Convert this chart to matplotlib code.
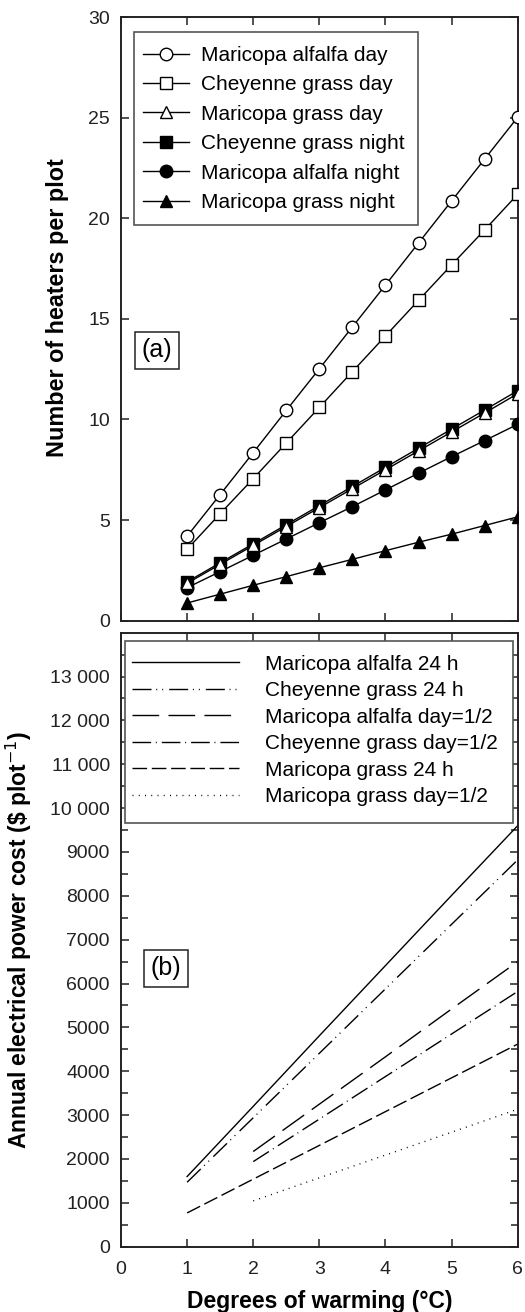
import matplotlib
matplotlib.use("Agg")
import matplotlib.pyplot as plt
from matplotlib.patches import Rectangle

plt.rcParams['font.family'] = ['Liberation Sans', 'DejaVu Sans']

# ---------------- data ----------------
warming = [1, 1.5, 2, 2.5, 3, 3.5, 4, 4.5, 5, 5.5, 6]
mar_alf_day = [4.2, 6.27, 8.35, 10.45, 12.52, 14.6, 16.68, 18.77, 20.86, 22.94, 25.02]
chey_grass_day = [3.55, 5.32, 7.06, 8.83, 10.6, 12.38, 14.15, 15.92, 17.68, 19.42, 21.19]
mar_grass_day = [1.86, 2.8, 3.74, 4.68, 5.62, 6.56, 7.5, 8.44, 9.38, 10.32, 11.28]
chey_grass_night = [1.93, 2.88, 3.82, 4.77, 5.72, 6.67, 7.62, 8.57, 9.52, 10.47, 11.43]
mar_alf_night = [1.64, 2.44, 3.25, 4.06, 4.87, 5.67, 6.5, 7.33, 8.15, 8.95, 9.76]
mar_grass_night = [0.88, 1.32, 1.76, 2.19, 2.63, 3.05, 3.48, 3.9, 4.3, 4.73, 5.16]
labels_a = ["Maricopa alfalfa day", "Cheyenne grass day", "Maricopa grass day",
            "Cheyenne grass night", "Maricopa alfalfa night", "Maricopa grass night"]

deg_24h = [1, 2, 3, 4, 5, 6]
deg_half = [2, 3, 4, 5, 6]
cost_mar_alf_24h = [1600, 3200, 4810, 6410, 8010, 9600]
cost_chey_grass_24h = [1470, 2940, 4410, 5880, 7350, 8820]
cost_mar_alf_half = [2170, 3250, 4330, 5420, 6500]
cost_chey_grass_half = [1940, 2910, 3880, 4850, 5820]
cost_mar_grass_24h = [770, 1540, 2310, 3080, 3850, 4620]
cost_mar_grass_half = [1045, 1570, 2090, 2610, 3135]
labels_b = ["Maricopa alfalfa 24 h", "Cheyenne grass 24 h", "Maricopa alfalfa day=1/2",
            "Cheyenne grass day=1/2", "Maricopa grass 24 h", "Maricopa grass day=1/2"]

yticks_a = [0, 5, 10, 15, 20, 25, 30]
yticks_b = [0, 1000, 2000, 3000, 4000, 5000, 6000, 7000, 8000, 9000,
            10000, 11000, 12000, 13000]
yticklabels_b = ["0", "1000", "2000", "3000", "4000", "5000", "6000", "7000",
                 "8000", "9000", "10 000", "11 000", "12 000", "13 000"]
xticks = [0, 1, 2, 3, 4, 5, 6]

# ---------------- figure ----------------
fig = plt.figure(figsize=(5.25, 13.12), dpi=100)
L, W = 121 / 525, 396.7 / 525
ax1 = fig.add_axes([L, 1 - 620.7 / 1312, W, 603.7 / 1312])
ax2 = fig.add_axes([L, 1 - 1246.7 / 1312, W, 614 / 1312])

spine_c = '#222222'
for ax in (ax1, ax2):
    for s in ax.spines.values():
        s.set_linewidth(1.4)
        s.set_color(spine_c)
    ax.tick_params(direction='in', which='both', top=True, right=True,
                   labelsize=14, pad=8, color=spine_c, colors='#222222')
    ax.tick_params(which='major', length=6, width=1.1)
    ax.tick_params(which='minor', length=5, width=1.1)
    ax.tick_params(axis='x', pad=10)
    ax.set_xlim(0, 6)
    ax.set_xticks(xticks)

# panel (a)
lw = 1.0
ms = 9
mew = 1.0
ax1.plot(warming, mar_alf_day, '-', color='k', lw=lw, marker='o', ms=ms, mfc='white', mec='k', mew=mew, label=labels_a[0], zorder=3)
ax1.plot(warming, chey_grass_day, '-', color='k', lw=lw, marker='s', ms=ms, mfc='white', mec='k', mew=mew, label=labels_a[1], zorder=3)
ax1.plot(warming, mar_grass_day, '-', color='k', lw=lw, marker='^', ms=ms, mfc='white', mec='k', mew=mew, label=labels_a[2], zorder=5)
ax1.plot(warming, chey_grass_night, '-', color='k', lw=lw, marker='s', ms=ms, mfc='k', mec='k', mew=mew, label=labels_a[3], zorder=4)
ax1.plot(warming, mar_alf_night, '-', color='k', lw=lw, marker='o', ms=ms, mfc='k', mec='k', mew=mew, label=labels_a[4], zorder=3)
ax1.plot(warming, mar_grass_night, '-', color='k', lw=lw, marker='^', ms=ms, mfc='k', mec='k', mew=mew, label=labels_a[5], zorder=3)
ax1.set_ylim(0, 30)
ax1.set_yticks(yticks_a)
ax1.tick_params(axis='x', labelbottom=False)
ax1.set_ylabel("Number of heaters per plot", fontsize=16.8, fontweight='bold')
ax1.yaxis.set_label_coords(-0.131, 0.519)
ax1.add_patch(Rectangle((0.032, 0.6555), 0.716, 0.9747 - 0.6555, transform=ax1.transAxes,
                        fc='white', ec='#555555', lw=1.2, zorder=6))
leg1 = ax1.legend(loc='upper left', bbox_to_anchor=(0.032, 0.968), borderaxespad=0,
                  fontsize=15, handlelength=2.2, handletextpad=0.56, borderpad=0.46,
                  labelspacing=0.5, frameon=False)
leg1.set_zorder(7)
ax1.text(0.0907, 0.4476, "(a)", transform=ax1.transAxes, fontsize=18, ha='center', va='center',
         bbox=dict(boxstyle='square,pad=0.27', fc='white', ec='#222222', lw=1.1))

# panel (b)
lwb = 1.0
ax2.plot(deg_24h, cost_mar_alf_24h, color='k', lw=lwb, linestyle='-', label=labels_b[0])
ax2.plot(deg_24h, cost_chey_grass_24h, color='k', lw=lwb,
         linestyle=(0, (13.7, 3.4, 0.7, 3.6, 0.7, 4.3)), label=labels_b[1])
ax2.plot(deg_half, cost_mar_alf_half, color='k', lw=lwb,
         linestyle=(0, (19.2, 6.7)), label=labels_b[2])
ax2.plot(deg_half, cost_chey_grass_half, color='k', lw=lwb,
         linestyle=(0, (13.4, 3.4, 0.7, 3.6)), label=labels_b[3])
ax2.plot(deg_24h, cost_mar_grass_24h, color='k', lw=lwb,
         linestyle=(0, (10.5, 3.4)), label=labels_b[4])
ax2.plot(deg_half, cost_mar_grass_half, color='k', lw=lwb,
         linestyle=(0, (0.7, 3.8)), label=labels_b[5])
ax2.set_ylim(0, 14000)
ax2.set_yticks(yticks_b)
ax2.set_yticklabels(yticklabels_b)
ax2.set_yticks([v + 500 for v in yticks_b], minor=True)
ax2.set_xticklabels([str(t) for t in xticks])
ax2.set_ylabel("Annual electrical power cost (\\$ plot$^{-1}$)", fontsize=16.5, fontweight='bold')
ax2.yaxis.set_label_coords(-0.219, 0.5)
ax2.set_xlabel("Degrees of warming (°C)", fontsize=16.5, fontweight='bold')
ax2.xaxis.set_label_coords(0.5, -0.0705)
ax2.xaxis.label.set_va('top')
ax2.add_patch(Rectangle((0.0101, 0.6896), 0.978, 0.987 - 0.6896, transform=ax2.transAxes,
                        fc='white', ec='#555555', lw=1.2, zorder=6))
leg2 = ax2.legend(loc='upper left', bbox_to_anchor=(0.0101, 0.975), borderaxespad=0,
                  fontsize=15, handlelength=5.13, handletextpad=1.28,
                  borderpad=0.32, labelspacing=0.36, frameon=False)
leg2.set_zorder(7)
ax2.text(0.114, 0.4534, "(b)", transform=ax2.transAxes, fontsize=18, ha='center', va='center',
         bbox=dict(boxstyle='square,pad=0.27', fc='white', ec='#222222', lw=1.1))

fig.savefig("out.png", dpi=100)
